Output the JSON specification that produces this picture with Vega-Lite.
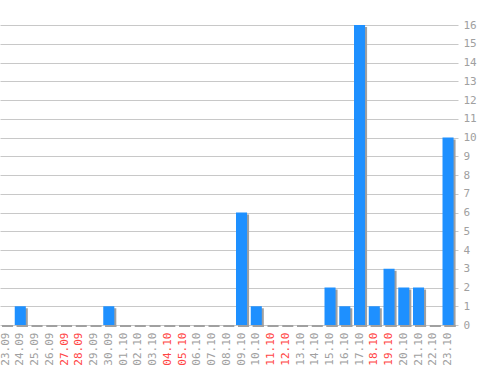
{
  "$schema": "https://vega.github.io/schema/vega-lite/v6.json",
  "width": 458,
  "height": 300,
  "autosize": {"type": "none"},
  "padding": {"left": 0, "top": 25, "right": 40, "bottom": 45},
  "background": "white",
  "config": {
    "view": {"stroke": null},
    "axis": {"labelFont": "DejaVu Sans Mono", "labelFontSize": 11, "labelColor": "#a0a0a0", "domain": false, "ticks": false}
  },
  "data": {
    "values": [
      {"date": "23.09", "count": 0},
      {"date": "24.09", "count": 1},
      {"date": "25.09", "count": 0},
      {"date": "26.09", "count": 0},
      {"date": "27.09", "count": 0},
      {"date": "28.09", "count": 0},
      {"date": "29.09", "count": 0},
      {"date": "30.09", "count": 1},
      {"date": "01.10", "count": 0},
      {"date": "02.10", "count": 0},
      {"date": "03.10", "count": 0},
      {"date": "04.10", "count": 0},
      {"date": "05.10", "count": 0},
      {"date": "06.10", "count": 0},
      {"date": "07.10", "count": 0},
      {"date": "08.10", "count": 0},
      {"date": "09.10", "count": 6},
      {"date": "10.10", "count": 1},
      {"date": "11.10", "count": 0},
      {"date": "12.10", "count": 0},
      {"date": "13.10", "count": 0},
      {"date": "14.10", "count": 0},
      {"date": "15.10", "count": 2},
      {"date": "16.10", "count": 1},
      {"date": "17.10", "count": 16},
      {"date": "18.10", "count": 1},
      {"date": "19.10", "count": 3},
      {"date": "20.10", "count": 2},
      {"date": "21.10", "count": 2},
      {"date": "22.10", "count": 0},
      {"date": "23.10", "count": 10}
    ]
  },
  "encoding": {
    "x": {
      "field": "date",
      "type": "nominal",
      "sort": null,
      "title": null,
      "scale": {"paddingInner": 0.25, "paddingOuter": 0.15, "align": 0},
      "axis": {
        "labelAngle": 270,
        "labelPadding": 7,
        "grid": false,
        "labelOverlap": false,
        "labelColor": {
          "condition": {"test": "indexof(['27.09','28.09','04.10','05.10','11.10','12.10','18.10','19.10'], datum.value) >= 0", "value": "#ff4545"},
          "value": "#a0a0a0"
        }
      }
    },
    "y": {
      "field": "count",
      "type": "quantitative",
      "title": null,
      "scale": {"domain": [0, 16], "nice": false},
      "axis": {"orient": "right", "values": [0,1,2,3,4,5,6,7,8,9,10,11,12,13,14,15,16], "labelOverlap": false, "grid": true, "gridColor": "#c8c8c8", "gridWidth": 1, "labelPadding": 5, "labelAlign": "left"}
    }
  },
  "layer": [
    {
      "mark": {"type": "bar", "color": "#a0a0a0", "xOffset": 2, "yOffset": 2, "y2Offset": 2}
    },
    {
      "mark": {"type": "bar", "color": "#a0a0a0", "xOffset": 2, "y2Offset": 2},
      "encoding": {
        "y": {"datum": 0},
        "y2": {"datum": 0}
      }
    },
    {
      "mark": {"type": "bar", "color": "#1e90ff"}
    }
  ]
}
